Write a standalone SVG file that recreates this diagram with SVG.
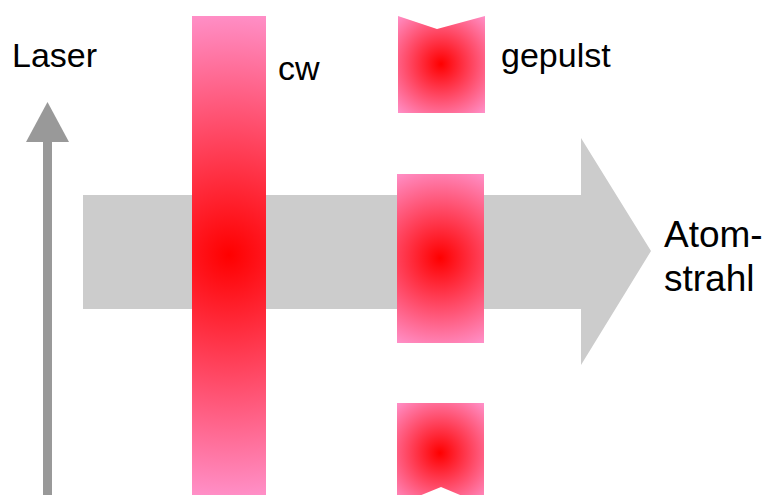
<svg xmlns="http://www.w3.org/2000/svg" width="768" height="495" viewBox="0 0 768 495">
<style>
.lbl{font-family:"Liberation Sans",Arial,sans-serif;fill:#000}
.gray{fill:#cccccc}
.dark{fill:#999999}
</style>
<defs>
<radialGradient id="gCw" gradientUnits="userSpaceOnUse" cx="229" cy="255" r="243">
<stop offset="0" stop-color="#ff0000"/><stop offset="1" stop-color="#ff90c8"/>
</radialGradient>
<radialGradient id="gTop" gradientUnits="userSpaceOnUse" cx="441" cy="64" r="65">
<stop offset="0" stop-color="#ff0000"/><stop offset="1" stop-color="#ff90c8"/>
</radialGradient>
<radialGradient id="gMid" gradientUnits="userSpaceOnUse" cx="440" cy="258" r="95">
<stop offset="0" stop-color="#ff0000"/><stop offset="1" stop-color="#ff90c8"/>
</radialGradient>
<radialGradient id="gBot" gradientUnits="userSpaceOnUse" cx="440" cy="453" r="66">
<stop offset="0" stop-color="#ff0000"/><stop offset="1" stop-color="#ff90c8"/>
</radialGradient>
</defs>
<g id="connectors">
<g id="atomstrahl-arrow">
<polygon class="gray" points="83,195 581,195 581,138 651,251 581,365 581,309 83,309"/>
</g>
<g id="laser-arrow">
<rect class="dark" x="43" y="140" width="9" height="355"/>
<polygon class="dark" points="47.5,102 26,142 69,142"/>
</g>
</g>
<g id="cw-beam">
<rect x="192" y="16" width="74" height="479" fill="url(#gCw)"/>
</g>
<g id="pulse-top">
<polygon points="398,16 437,29 485,16 485,113 398,113" fill="url(#gTop)"/>
</g>
<g id="pulse-mid">
<rect x="397" y="174" width="87" height="169" fill="url(#gMid)"/>
</g>
<g id="pulse-bottom">
<polygon points="397,403 484,403 484,505 441,487 397,505" fill="url(#gBot)"/>
</g>
<g id="labels">
<text class="lbl" x="12" y="67" font-size="34">Laser</text>
<text class="lbl" x="278" y="80" font-size="34">cw</text>
<text class="lbl" x="501" y="67" font-size="34">gepulst</text>
<text class="lbl" x="664" y="247" font-size="37">Atom-</text>
<text class="lbl" x="664" y="291" font-size="37">strahl</text>
</g>
</svg>
